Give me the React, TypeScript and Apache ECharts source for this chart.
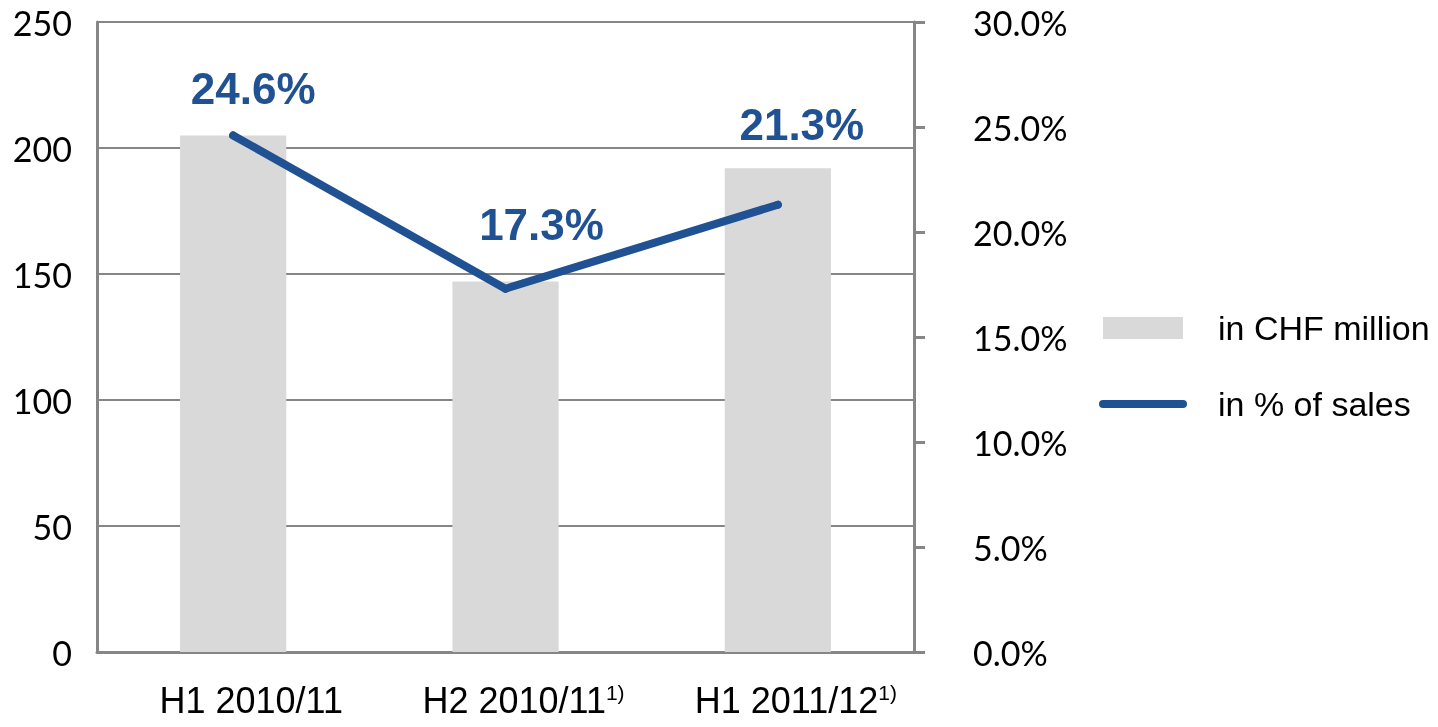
import React, { useEffect, useRef } from "react";
import * as echarts from "echarts";

const categories = ["H1 2010/11", "H2 2010/11", "H1 2011/12"];
const footnotes = ["", "1)", "1)"];
const amountCHF = [205, 147, 192];
const pctOfSales = [24.6, 17.3, 21.3];
const leftTicks = { min: 0, max: 250, interval: 50 };
const rightTicks = { min: 0, max: 30, interval: 5 };
const seriesNames = ["in CHF million", "in % of sales"];

const BLUE = "#1F5193";
const BAR = "#D9D9D9";
const AXIS = "#868686";

export default function App() {
  const ref = useRef<HTMLDivElement>(null);

  useEffect(() => {
    if (!ref.current) return;
    const chart = echarts.init(ref.current, undefined, { renderer: "svg" });
    const labelOffsets = [
      [20, -47],
      [36, -64],
      [24, -80],
    ];
    chart.setOption({
      animation: false,
      grid: { left: 97, right: 524, top: 22, bottom: 75, containLabel: false },
      legend: {
        orient: "vertical",
        left: 1099,
        top: 308,
        padding: 0,
        itemWidth: 80,
        itemHeight: 22,
        itemGap: 36,
        textStyle: {
          fontFamily: "Liberation Sans, Arial, sans-serif",
          fontSize: 34,
          color: "#000",
          lineHeight: 40,
          padding: [0, 0, 0, 30],
        },
        data: [
          { name: seriesNames[0], icon: "rect", itemStyle: { color: BAR } },
          {
            name: seriesNames[1],
            itemStyle: { opacity: 0 },
            lineStyle: { width: 8, color: BLUE, cap: "round" },
          },
        ],
      },
      xAxis: {
        type: "category",
        data: categories,
        axisLine: { show: true, lineStyle: { color: AXIS, width: 3 } },
        axisTick: { show: false },
        axisLabel: {
          interval: 0,
          margin: 30,
          padding: [0, 0, 0, 36],
          formatter: (v: string) => {
            const i = categories.indexOf(v);
            const f = footnotes[i];
            return f ? `{a|${v}}{s|${f}}` : `{a|${v}}`;
          },
          rich: {
            a: {
              fontFamily: "Liberation Sans, Arial, sans-serif",
              fontSize: 36,
              lineHeight: 36,
              padding: [8, 0, 0, 0],
              color: "#000",
              verticalAlign: "bottom",
            },
            s: {
              fontFamily: "Liberation Sans, Arial, sans-serif",
              fontSize: 21,
              lineHeight: 20,
              color: "#000",
              verticalAlign: "top",
            },
          },
        },
      },
      yAxis: [
        {
          type: "value",
          min: leftTicks.min,
          max: leftTicks.max,
          interval: leftTicks.interval,
          axisLine: { show: true, lineStyle: { color: AXIS, width: 3 } },
          axisTick: { show: false },
          splitLine: { show: true, lineStyle: { color: AXIS, width: 2 } },
          axisLabel: {
            margin: 25,
            fontFamily: "Lato, sans-serif",
            fontSize: 34,
            color: "#000",
          },
        },
        {
          type: "value",
          position: "right",
          min: rightTicks.min,
          max: rightTicks.max,
          interval: rightTicks.interval,
          axisLine: { show: true, lineStyle: { color: AXIS, width: 3 } },
          axisTick: {
            show: true,
            inside: false,
            length: 11,
            lineStyle: { color: AXIS, width: 3 },
          },
          splitLine: { show: false },
          axisLabel: {
            margin: 59,
            fontFamily: "Lato, sans-serif",
            fontSize: 34,
            color: "#000",
            formatter: (v: number) => `${v.toFixed(1)}%`,
          },
        },
      ],
      series: [
        {
          name: seriesNames[0],
          type: "bar",
          yAxisIndex: 0,
          barWidth: "39%",
          itemStyle: { color: BAR },
          data: amountCHF,
        },
        {
          name: seriesNames[1],
          type: "line",
          yAxisIndex: 1,
          symbol: "circle",
          symbolSize: 8,
          showSymbol: true,
          lineStyle: { color: BLUE, width: 8, cap: "round", join: "round" },
          itemStyle: { color: BLUE },
          label: {
            show: true,
            position: "inside",
            fontFamily: "Liberation Sans, Arial, sans-serif",
            fontWeight: "bold",
            fontSize: 44,
            color: BLUE,
            formatter: (p: any) => `${Number(p.value).toFixed(1)}%`,
          },
          data: pctOfSales.map((v, i) => ({
            value: v,
            label: { offset: labelOffsets[i] },
          })),
        },
      ],
    });
    return () => chart.dispose();
  }, []);

  return (
    <div
      ref={ref}
      style={{ position: "fixed", left: 0, top: 0, width: 1438, height: 727 }}
    />
  );
}
